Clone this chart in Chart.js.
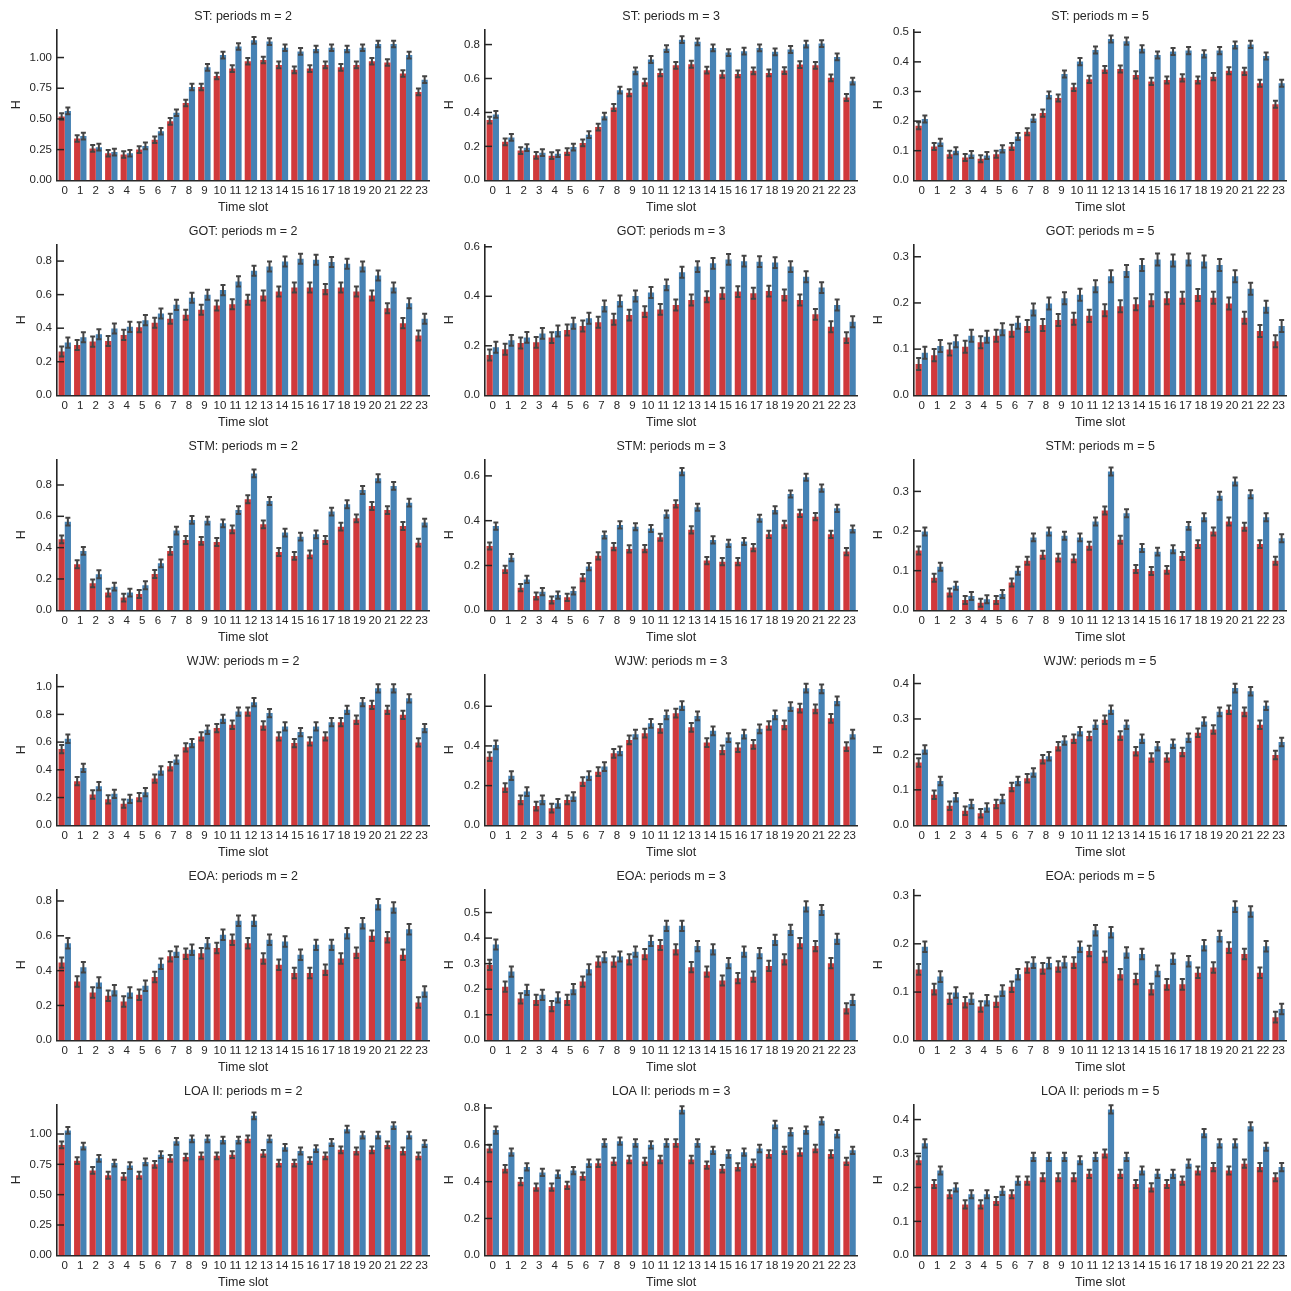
<!DOCTYPE html>
<html>
<head>
<meta charset="utf-8">
<script src="https://cdn.jsdelivr.net/npm/chart.js@4.4.1/dist/chart.umd.min.js"></script>
<style>
  body { margin: 0; background: #fff; }
  #wrap { position: relative; width: 1291px; height: 1291px; overflow: hidden; }
  #wrap canvas { position: absolute; }
</style>
</head>
<body>
<div id="wrap"></div>
<script>
// ---------------- data
const slots = ['0','1','2','3','4','5','6','7','8','9','10','11','12','13','14','15','16','17','18','19','20','21','22','23'];

const stRed2  = [0.52,0.34,0.26,0.22,0.21,0.25,0.33,0.48,0.63,0.76,0.85,0.91,0.97,0.98,0.94,0.90,0.91,0.94,0.92,0.94,0.97,0.96,0.87,0.72];
const stBlue2 = [0.565,0.36,0.27,0.23,0.22,0.28,0.40,0.55,0.76,0.92,1.02,1.09,1.14,1.13,1.08,1.05,1.07,1.08,1.07,1.08,1.11,1.11,1.02,0.82];
const stRed3  = [0.355,0.227,0.175,0.147,0.145,0.169,0.22,0.314,0.429,0.516,0.578,0.633,0.678,0.684,0.649,0.625,0.627,0.645,0.633,0.647,0.682,0.678,0.604,0.488];
const stBlue3 = [0.388,0.253,0.192,0.163,0.157,0.196,0.269,0.378,0.531,0.645,0.712,0.776,0.829,0.816,0.78,0.753,0.761,0.78,0.757,0.771,0.802,0.806,0.727,0.584];
const stRed5  = [0.184,0.114,0.088,0.077,0.073,0.088,0.114,0.164,0.227,0.278,0.314,0.341,0.374,0.376,0.356,0.334,0.339,0.346,0.339,0.35,0.37,0.368,0.328,0.257];
const stBlue5 = [0.207,0.128,0.10,0.087,0.084,0.106,0.148,0.209,0.288,0.359,0.401,0.44,0.477,0.47,0.444,0.423,0.435,0.438,0.427,0.438,0.457,0.459,0.42,0.328];

const gotRed2  = [0.261,0.30,0.32,0.324,0.36,0.406,0.432,0.456,0.48,0.51,0.535,0.543,0.569,0.595,0.619,0.643,0.643,0.633,0.643,0.619,0.595,0.519,0.43,0.356];
const gotBlue2 = [0.314,0.346,0.364,0.398,0.408,0.448,0.488,0.539,0.581,0.599,0.627,0.679,0.742,0.768,0.798,0.814,0.808,0.794,0.784,0.768,0.714,0.643,0.549,0.456];
const gotRed3  = [0.163,0.186,0.211,0.214,0.233,0.264,0.28,0.295,0.307,0.324,0.338,0.347,0.365,0.385,0.398,0.412,0.419,0.412,0.421,0.405,0.385,0.327,0.277,0.233];
const gotBlue3 = [0.194,0.222,0.234,0.25,0.26,0.291,0.311,0.361,0.381,0.401,0.415,0.446,0.497,0.52,0.533,0.549,0.542,0.54,0.536,0.52,0.479,0.435,0.365,0.297];
const gotRed5  = [0.068,0.087,0.099,0.105,0.115,0.129,0.14,0.15,0.152,0.163,0.166,0.172,0.184,0.193,0.197,0.206,0.21,0.211,0.217,0.211,0.199,0.168,0.139,0.117];
const gotBlue5 = [0.092,0.107,0.117,0.129,0.127,0.143,0.157,0.186,0.199,0.21,0.218,0.236,0.258,0.269,0.282,0.294,0.292,0.294,0.29,0.282,0.258,0.231,0.192,0.15];

const stmRed2  = [0.453,0.294,0.172,0.113,0.081,0.104,0.232,0.379,0.449,0.443,0.436,0.517,0.709,0.549,0.372,0.347,0.357,0.449,0.534,0.587,0.666,0.64,0.538,0.432];
const stmBlue2 = [0.566,0.379,0.23,0.151,0.113,0.16,0.30,0.509,0.577,0.572,0.555,0.64,0.874,0.698,0.496,0.47,0.485,0.63,0.677,0.768,0.843,0.794,0.687,0.56];
const stmRed3  = [0.287,0.183,0.101,0.064,0.046,0.058,0.146,0.243,0.284,0.274,0.275,0.326,0.475,0.359,0.222,0.217,0.217,0.28,0.339,0.384,0.433,0.418,0.339,0.262];
const stmBlue3 = [0.376,0.235,0.138,0.083,0.068,0.086,0.195,0.336,0.381,0.373,0.365,0.429,0.619,0.46,0.314,0.299,0.307,0.411,0.448,0.519,0.594,0.545,0.455,0.363];
const stmRed5  = [0.151,0.082,0.045,0.026,0.019,0.026,0.07,0.125,0.14,0.133,0.131,0.163,0.252,0.178,0.104,0.099,0.102,0.137,0.167,0.199,0.224,0.211,0.167,0.125];
const stmBlue5 = [0.199,0.11,0.062,0.036,0.028,0.041,0.10,0.184,0.199,0.188,0.184,0.224,0.35,0.245,0.157,0.148,0.154,0.213,0.235,0.289,0.325,0.293,0.235,0.182];

const wjwRed2  = [0.55,0.318,0.222,0.187,0.156,0.203,0.337,0.426,0.562,0.641,0.701,0.725,0.82,0.72,0.641,0.593,0.605,0.641,0.744,0.761,0.868,0.833,0.797,0.598];
const wjwBlue2 = [0.624,0.414,0.282,0.227,0.191,0.239,0.395,0.474,0.593,0.689,0.768,0.82,0.888,0.809,0.713,0.672,0.713,0.744,0.833,0.888,0.988,0.988,0.916,0.701];
const wjwRed3  = [0.346,0.19,0.128,0.097,0.086,0.128,0.22,0.27,0.363,0.43,0.464,0.489,0.565,0.494,0.417,0.38,0.392,0.408,0.503,0.506,0.59,0.587,0.539,0.397];
const wjwBlue3 = [0.405,0.25,0.17,0.128,0.111,0.145,0.25,0.296,0.375,0.459,0.514,0.556,0.603,0.551,0.476,0.442,0.459,0.486,0.556,0.598,0.691,0.687,0.627,0.459];
const wjwRed5  = [0.177,0.086,0.055,0.041,0.034,0.06,0.108,0.133,0.186,0.223,0.244,0.252,0.298,0.253,0.209,0.191,0.191,0.207,0.261,0.27,0.326,0.32,0.284,0.198];
const wjwBlue5 = [0.214,0.125,0.079,0.06,0.05,0.074,0.125,0.149,0.195,0.239,0.265,0.284,0.326,0.284,0.244,0.223,0.23,0.247,0.293,0.32,0.387,0.378,0.337,0.235];

const eoaRed2  = [0.446,0.338,0.275,0.256,0.223,0.262,0.363,0.482,0.497,0.50,0.53,0.577,0.557,0.47,0.434,0.386,0.386,0.405,0.47,0.503,0.60,0.592,0.491,0.217];
const eoaBlue2 = [0.557,0.42,0.332,0.287,0.275,0.313,0.439,0.509,0.52,0.557,0.606,0.686,0.686,0.577,0.567,0.491,0.548,0.548,0.615,0.672,0.781,0.762,0.638,0.28];
const eoaRed3  = [0.295,0.21,0.164,0.158,0.134,0.158,0.23,0.308,0.308,0.317,0.337,0.373,0.356,0.286,0.269,0.234,0.243,0.249,0.291,0.317,0.38,0.369,0.302,0.125];
const eoaBlue3 = [0.375,0.269,0.197,0.178,0.168,0.20,0.278,0.325,0.328,0.347,0.389,0.448,0.448,0.369,0.356,0.302,0.347,0.341,0.393,0.432,0.524,0.51,0.397,0.158];
const eoaRed5  = [0.147,0.106,0.086,0.079,0.07,0.08,0.111,0.151,0.149,0.153,0.161,0.185,0.173,0.137,0.127,0.106,0.116,0.116,0.14,0.151,0.192,0.179,0.14,0.048];
const eoaBlue5 = [0.194,0.132,0.099,0.086,0.083,0.103,0.137,0.161,0.16,0.162,0.194,0.228,0.224,0.182,0.179,0.144,0.169,0.164,0.197,0.216,0.277,0.267,0.195,0.065];

const loaRed2  = [0.91,0.78,0.70,0.66,0.65,0.66,0.75,0.80,0.81,0.82,0.82,0.83,0.96,0.84,0.76,0.76,0.78,0.82,0.87,0.86,0.87,0.91,0.86,0.82];
const loaBlue2 = [1.03,0.90,0.80,0.76,0.74,0.77,0.83,0.94,0.96,0.96,0.95,0.95,1.15,0.96,0.89,0.86,0.88,0.93,1.04,0.99,0.99,1.07,0.99,0.92];
const loaRed3  = [0.58,0.47,0.40,0.37,0.37,0.38,0.43,0.50,0.51,0.52,0.51,0.52,0.61,0.52,0.49,0.47,0.48,0.50,0.55,0.57,0.56,0.58,0.55,0.51];
const loaBlue3 = [0.68,0.56,0.48,0.45,0.44,0.46,0.50,0.61,0.62,0.61,0.60,0.61,0.79,0.61,0.57,0.55,0.56,0.58,0.71,0.67,0.68,0.73,0.66,0.57];
const loaRed5  = [0.28,0.21,0.18,0.15,0.15,0.16,0.18,0.22,0.23,0.23,0.23,0.24,0.30,0.24,0.21,0.20,0.21,0.22,0.25,0.26,0.25,0.27,0.26,0.23];
const loaBlue5 = [0.33,0.25,0.20,0.18,0.18,0.19,0.22,0.29,0.29,0.29,0.28,0.29,0.43,0.29,0.25,0.24,0.24,0.27,0.36,0.33,0.33,0.38,0.32,0.26];

// y tick labels used by the panels
const ticksQ   = [0, 0.25, 0.5, 0.75, 1.0];
const ticks02a = [0, 0.2, 0.4, 0.6];
const ticks02b = [0, 0.2, 0.4, 0.6, 0.8];
const ticks02c = [0, 0.2, 0.4, 0.6, 0.8, 1.0];
const ticks01a = [0, 0.1, 0.2, 0.3];
const ticks01b = [0, 0.1, 0.2, 0.3, 0.4];
const ticks01c = [0, 0.1, 0.2, 0.3, 0.4, 0.5];

// panel list, row by row
const panels = [
  {title: 'ST: periods m = 2',     red: stRed2,  blue: stBlue2,  max: 1.23,  ticks: ticksQ,   dec: 2, err: 0.027},
  {title: 'ST: periods m = 3',     red: stRed3,  blue: stBlue3,  max: 0.89,  ticks: ticks02b, dec: 1, err: 0.02},
  {title: 'ST: periods m = 5',     red: stRed5,  blue: stBlue5,  max: 0.51,  ticks: ticks01c, dec: 1, err: 0.012},
  {title: 'GOT: periods m = 2',    red: gotRed2, blue: gotBlue2, max: 0.90,  ticks: ticks02b, dec: 1, err: 0.03},
  {title: 'GOT: periods m = 3',    red: gotRed3, blue: gotBlue3, max: 0.61,  ticks: ticks02a, dec: 1, err: 0.022},
  {title: 'GOT: periods m = 5',    red: gotRed5, blue: gotBlue5, max: 0.327, ticks: ticks01a, dec: 1, err: 0.013},
  {title: 'STM: periods m = 2',    red: stmRed2, blue: stmBlue2, max: 0.964, ticks: ticks02b, dec: 1, err: 0.025},
  {title: 'STM: periods m = 3',    red: stmRed3, blue: stmBlue3, max: 0.674, ticks: ticks02a, dec: 1, err: 0.016},
  {title: 'STM: periods m = 5',    red: stmRed5, blue: stmBlue5, max: 0.381, ticks: ticks01a, dec: 1, err: 0.01},
  {title: 'WJW: periods m = 2',    red: wjwRed2, blue: wjwBlue2, max: 1.089, ticks: ticks02c, dec: 1, err: 0.03},
  {title: 'WJW: periods m = 3',    red: wjwRed3, blue: wjwBlue3, max: 0.761, ticks: ticks02a, dec: 1, err: 0.022},
  {title: 'WJW: periods m = 5',    red: wjwRed5, blue: wjwBlue5, max: 0.426, ticks: ticks01b, dec: 1, err: 0.012},
  {title: 'EOA: periods m = 2',    red: eoaRed2, blue: eoaBlue2, max: 0.867, ticks: ticks02b, dec: 1, err: 0.03},
  {title: 'EOA: periods m = 3',    red: eoaRed3, blue: eoaBlue3, max: 0.591, ticks: ticks01c, dec: 1, err: 0.02},
  {title: 'EOA: periods m = 5',    red: eoaRed5, blue: eoaBlue5, max: 0.313, ticks: ticks01a, dec: 1, err: 0.011},
  {title: 'LOA II: periods m = 2', red: loaRed2, blue: loaBlue2, max: 1.245, ticks: ticksQ,   dec: 2, err: 0.028},
  {title: 'LOA II: periods m = 3', red: loaRed3, blue: loaBlue3, max: 0.82,  ticks: ticks02b, dec: 1, err: 0.02},
  {title: 'LOA II: periods m = 5', red: loaRed5, blue: loaBlue5, max: 0.445, ticks: ticks01b, dec: 1, err: 0.012}
];

// ---------------- look
const RED = '#d0393b';
const BLUE = '#4682b4';
const INK = '#262626';
const ERR = '#444444';
const FONT = '"Liberation Sans", Arial, sans-serif';
const colLeft = [0, 428, 857];
const rowTop = [0, 215, 430, 645, 860, 1075];

// error bars on top of every bar
const errorBars = {
  id: 'errorBars',
  afterDatasetsDraw(chart){
    const ctx = chart.ctx, y = chart.scales.y;
    ctx.save();
    ctx.strokeStyle = ERR;
    ctx.lineWidth = 2;
    chart.data.datasets.forEach(function(ds, di){
      chart.getDatasetMeta(di).data.forEach(function(bar, k){
        const v = ds.data[k];
        const yt = y.getPixelForValue(v + ds.err);
        const yb = y.getPixelForValue(v - ds.err);
        ctx.beginPath();
        ctx.moveTo(bar.x, yt); ctx.lineTo(bar.x, yb);
        ctx.moveTo(bar.x - 2.5, yt); ctx.lineTo(bar.x + 2.5, yt);
        ctx.moveTo(bar.x - 2.5, yb); ctx.lineTo(bar.x + 2.5, yb);
        ctx.stroke();
      });
    });
    ctx.restore();
  }
};

// short inward y ticks like the reference
const inTicks = {
  id: 'inTicks',
  afterDatasetsDraw(chart){
    const ctx = chart.ctx, y = chart.scales.y, left = chart.chartArea.left;
    ctx.save();
    ctx.strokeStyle = INK;
    ctx.lineWidth = 1.5;
    y.ticks.forEach(function(t){
      if (t.value === 0) return;
      const py = y.getPixelForValue(t.value);
      ctx.beginPath();
      ctx.moveTo(left, py); ctx.lineTo(left + 7, py);
      ctx.stroke();
    });
    ctx.restore();
  }
};

const wrap = document.getElementById('wrap');

function makePanel(p, i){
  const row = Math.floor(i / 3), col = i % 3;
  const cv = document.createElement('canvas');
  cv.width = 432; cv.height = 215;
  cv.style.left = colLeft[col] + 'px';
  cv.style.top = rowTop[row] + 'px';
  wrap.appendChild(cv);
  new Chart(cv, {
    type: 'bar',
    data: {labels: slots, datasets: [
      {label: 'red', data: p.red, backgroundColor: RED, borderWidth: 0, err: p.err},
      {label: 'blue', data: p.blue, backgroundColor: BLUE, borderWidth: 0, err: p.err}
    ]},
    options: {
      responsive: false,
      animation: false,
      layout: {padding: {left: 0, right: 2, top: 0, bottom: 0}},
      datasets: {bar: {categoryPercentage: 0.8, barPercentage: 1.0}},
      plugins: {
        legend: {display: false},
        tooltip: {enabled: false},
        title: {display: true, text: p.title, fullSize: false, color: INK,
                font: {family: FONT, size: 12.5, weight: 'normal'}, padding: {top: 9.5, bottom: 4.8}}
      },
      scales: {
        x: {
          grid: {display: false, drawTicks: false},
          border: {display: true, color: INK, width: 1.6},
          ticks: {color: INK, font: {family: FONT, size: 11.5}, padding: 4,
                  autoSkip: false, maxRotation: 0, minRotation: 0},
          title: {display: true, text: 'Time slot', color: INK,
                  font: {family: FONT, size: 12.5}, padding: {top: 0, bottom: 0}},
          afterFit: function(s){ s.height = 34.7; }
        },
        y: {
          min: 0, max: p.max,
          grid: {display: false, drawTicks: false},
          border: {display: true, color: INK, width: 1.6},
          ticks: {color: INK, font: {family: FONT, size: 11.5}, padding: 5,
                  callback: function(v){ return Number(v).toFixed(p.dec); }},
          afterBuildTicks: function(s){ s.ticks = p.ticks.map(function(v){ return {value: v}; }); },
          title: {display: true, text: 'H', color: INK, font: {family: FONT, size: 12.5},
                  padding: {top: p.dec === 2 ? 9.5 : 14.5, bottom: 0}},
          afterFit: function(s){ s.width = 57; }
        }
      }
    },
    plugins: [errorBars, inTicks]
  });
}

panels.forEach(makePanel);
</script>
</body>
</html>
